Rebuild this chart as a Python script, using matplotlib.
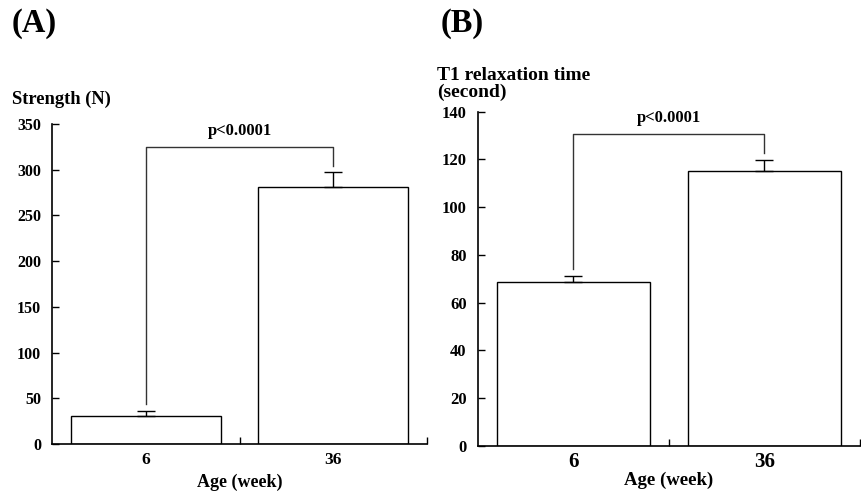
#!/usr/bin/env python3
"""
Strength and T1 relaxation time by age (two bar panels)
"""

import numpy as np
import matplotlib
matplotlib.use('Agg')
import matplotlib.pyplot as plt

# Data
ages = ['6', '36']
strength = [31, 281]
strength_err = [5.5, 16]
t1_time = [68.5, 115]
t1_err = [2.8, 4.9]
p_text = 'p<0.0001'
bracket_a = 325
bracket_b = 130.5

plt.rcParams['font.family'] = ['Liberation Serif', 'DejaVu Serif']
plt.rcParams['font.weight'] = 'bold'
plt.rcParams['axes.linewidth'] = 1.2


def draw_panel(ax, values, errs, bracket_y, ylim, yticks, xlim, ytick_size, xtick_size, xpad):
    """Bar panel with one-sided error bars and a significance bracket"""
    x = np.arange(len(values))
    ax.bar(x, values, width=0.8, color='white', edgecolor='black', linewidth=1.0, zorder=2)
    ax.errorbar(x, values, yerr=[np.zeros(len(errs)), errs], fmt='none', ecolor='black',
                elinewidth=1.0, capsize=6.5, capthick=1.0, zorder=3)

    # significance bracket
    gap = (ylim[1] - ylim[0]) * 0.02
    tops = np.array(values) + np.array(errs) + gap
    ax.plot([x[0], x[0], x[1], x[1]], [tops[0], bracket_y, bracket_y, tops[1]],
            color='#333333', linewidth=1.0, zorder=3)
    ax.text((x[0] + x[1]) / 2, bracket_y + (ylim[1] - ylim[0]) * 0.025, p_text,
            ha='center', va='bottom', fontsize=12, fontweight='bold')

    ax.set_xlim(*xlim)
    ax.set_ylim(*ylim)
    ax.set_yticks(yticks)
    ax.set_xticks(x)
    ax.set_xticklabels(ages, fontsize=xtick_size, fontweight='bold')
    ax.set_xticks([0.5, 1.5], minor=True)
    ax.tick_params(axis='x', which='major', length=0, pad=xpad)
    ax.tick_params(axis='x', which='minor', direction='in', length=5, width=1.0)
    ax.tick_params(axis='y', direction='in', length=5, width=1.0, labelsize=ytick_size, pad=8)
    for lab in ax.get_yticklabels():
        lab.set_fontweight('bold')
    ax.spines['top'].set_visible(False)
    ax.spines['right'].set_visible(False)


fig = plt.figure(figsize=(8.61, 4.92), dpi=100)

# Panel A
ax1 = fig.add_axes([0.0604, 0.0976, 0.4356, 0.6504])
draw_panel(ax1, strength, strength_err, bracket_a, (0, 350), range(0, 351, 50),
           (-0.5, 1.5), 11.5, 12.5, 6)
ax1.set_xlabel('Age (week)', fontsize=13, fontweight='bold', labelpad=4)

# Panel B
ax2 = fig.add_axes([0.555, 0.0935, 0.4438, 0.6795])
draw_panel(ax2, t1_time, t1_err, bracket_b, (0, 140), range(0, 141, 20),
           (-0.5, 1.46), 12, 15, 4)
ax2.set_xlabel('Age (week)', fontsize=13.5, fontweight='bold', labelpad=0)

# Panel letters and y-axis titles
fig.text(12 / 861, 1 - 32 / 492, '(A)', fontsize=23.5, fontweight='bold', ha='left', va='baseline')
fig.text(441 / 861, 1 - 32 / 492, '(B)', fontsize=23.5, fontweight='bold', ha='left', va='baseline')
fig.text(12 / 861, 1 - 104 / 492, 'Strength (N)', fontsize=13.3, fontweight='bold',
         ha='left', va='baseline')
fig.text(437 / 861, 1 - 97 / 492, 'T1 relaxation time\n(second)', fontsize=14,
         fontweight='bold', ha='left', va='baseline', linespacing=1.0)

fig.savefig('out.png', dpi=100)
plt.close(fig)
